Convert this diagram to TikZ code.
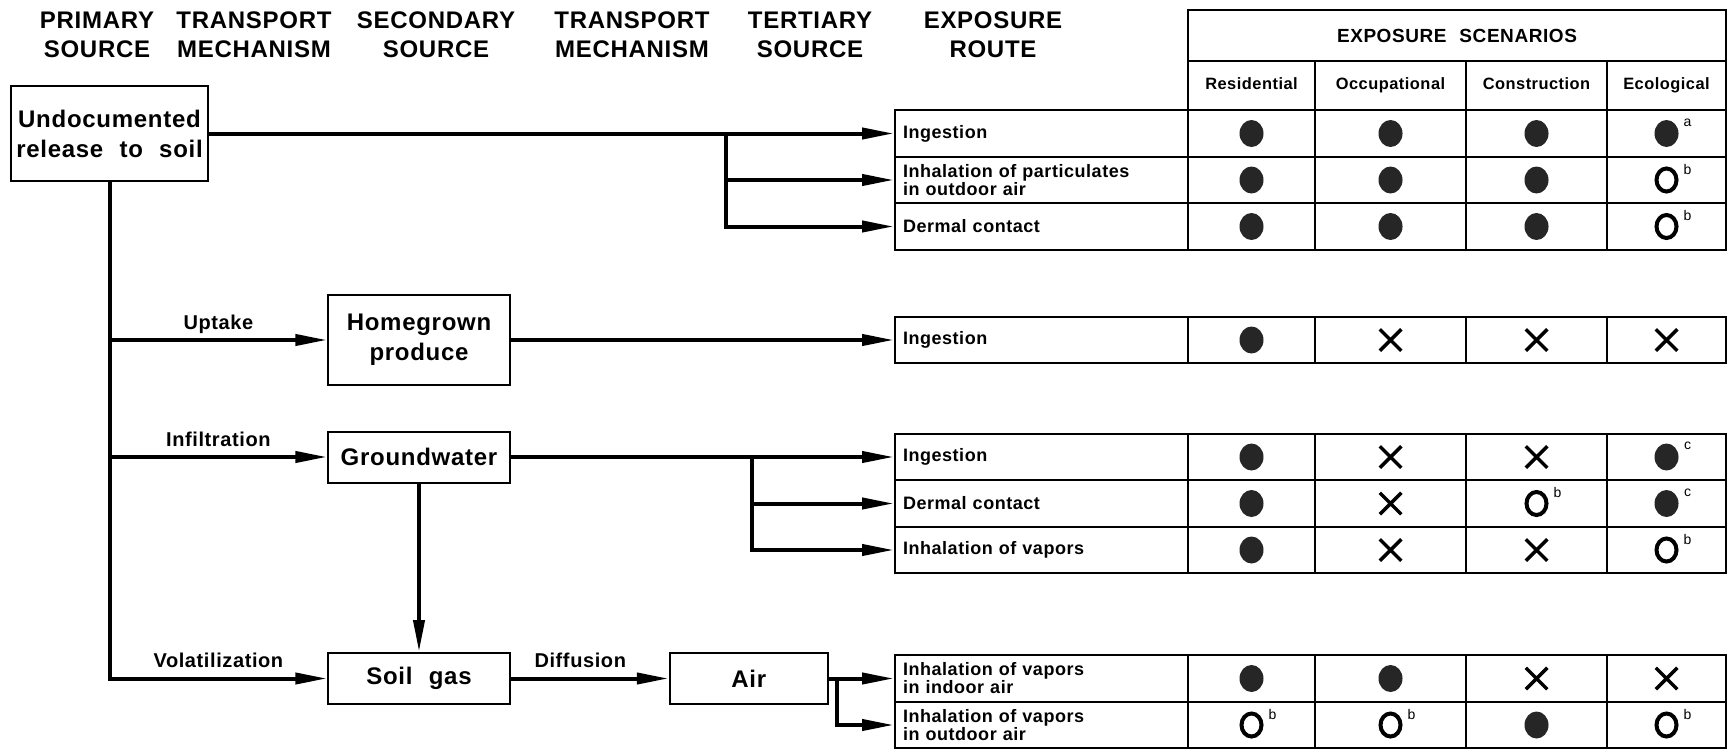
\documentclass[tikz,border=0pt]{standalone}
\usepackage{fontspec}
\setmainfont{Liberation Sans}[WordSpace=2.2,LetterSpace=3]
\usetikzlibrary{arrows.meta}
\usetikzlibrary{positioning}
\usetikzlibrary{shapes.misc}
\tikzset{
	>={Triangle[length=16pt,width=5.5pt]},
	colhead/.style={
		align=center,
		inner sep=0pt,
		font=\fontsize{12}{14.5}\selectfont\bfseries},
	srcbox/.style={
		rectangle,
		draw=black, line width=1pt,
		align=center,
		inner xsep=2pt,
		minimum width=90.75pt,
		minimum height=25.5pt,
		font=\fontsize{12}{15}\selectfont\bfseries},
	flow/.style={draw, line width=2pt, ->},
	mech/.style={
		above=1.5pt, inner sep=1pt,
		text height=7.4pt, text depth=2pt,
		font=\fontsize{10}{12}\selectfont\bfseries},
	routecell/.style={
		rectangle,
		draw=black, line width=1pt,
		text width=138.5pt, inner xsep=4pt, inner ysep=0pt,
		minimum height=23.25pt,
		align=left,
		font={\fontsize{9}{9}\selectfont\bfseries\fontdimen2\font=6.6pt\relax}},
	scencell/.style={
		rectangle,
		draw=black, line width=1pt,
		minimum height=23.25pt,
		inner sep=0pt},
	subhead/.style={scencell, minimum height=24.6pt, text height=6.3pt, text depth=1.9pt,
		font=\fontsize{8.2}{10}\selectfont\bfseries},
	dot/.style={fill=black!85},
	ring/.style={draw, line width=2pt},
	xmark/.style={cross out, draw, line width=1.75pt, minimum size=9pt, inner sep=0pt},
	supmk/.style={inner sep=0pt, font=\fontsize{7}{8}\selectfont},
}
\newcommand{\markF}[2]{\fill[dot] (#1) ellipse [x radius=6pt, y radius=6.75pt];
	\node[supmk] (#1s) at ([shift={(10.5pt,5.5pt)}]#1) {#2};}
\newcommand{\markO}[2]{\draw[ring] (#1) ellipse [x radius=5pt, y radius=5.75pt];
	\node[supmk] (#1s) at ([shift={(10.5pt,5.5pt)}]#1) {#2};}
\newcommand{\markX}[2]{\node[xmark] (#1x) at (#1) {};}
\begin{document}
\begin{tikzpicture}[x=0.5pt, y=-0.5pt]
	\useasboundingbox (0,0) rectangle (1733,749);
	% column headings
	\node[colhead] (hprim) at (97,35) {PRIMARY\\SOURCE};
	\node[colhead] (htrone) at (254,35) {TRANSPORT\\MECHANISM};
	\node[colhead] (hsec) at (436,35) {SECONDARY\\SOURCE};
	\node[colhead] (htrtwo) at (632,35) {TRANSPORT\\MECHANISM};
	\node[colhead] (hter) at (810,35) {TERTIARY\\SOURCE};
	\node[colhead] (hroute) at (993,35) {EXPOSURE\\ROUTE};

	% sources
	\node[srcbox, minimum width=98.5pt, minimum height=47pt] (src) at (109.5,133.5) {Undocumented\\release to soil};
	\node[srcbox, minimum height=45pt] (produce) at (419,340) {Homegrown\\produce};
	\node[srcbox] (gw) at (419,457) {Groundwater};
	\node[srcbox] (soilgas) at (419,678.5) {Soil gas};
	\node[srcbox, minimum width=79pt, right=79pt of soilgas] (air) {Air};

	% scenario table
	\node[scencell, minimum width=269pt, minimum height=25.5pt, font=\fontsize{9.5}{11}\selectfont\bfseries] (scen) at (1457,35.5) {EXPOSURE SCENARIOS};
	\foreach \cx/\cw/\ct [count=\c] in {1251.5/63.5/Residential, 1390.5/75.5/Occupational, 1536.5/70.5/Construction, 1666.5/59.5/Ecological}
		\node[subhead, minimum width=\cw pt] (sub\c) at (\cx,85.6) {\ct};
	\foreach \rn/\ry/\rt/\syms in {
		11/133.5/{Ingestion}/{F/,F/,F/,F/a},
		12/180/{Inhalation of particulates\\in outdoor air}/{F/,F/,F/,O/b},
		13/226.5/{Dermal contact}/{F/,F/,F/,O/b},
		21/340/{Ingestion}/{F/,X/,X/,X/},
		31/457/{Ingestion}/{F/,X/,X/,F/c},
		32/503.5/{Dermal contact}/{F/,X/,O/b,F/c},
		33/550/{Inhalation of vapors}/{F/,X/,X/,O/b},
		41/678.5/{Inhalation of vapors\\in indoor air}/{F/,F/,X/,X/},
		42/725/{Inhalation of vapors\\in outdoor air}/{O/b,O/b,F/,O/b}}
	{
		\node[routecell] (r\rn) at (1041.5,\ry) {\rt};
		\foreach \cx/\cw [count=\c] in {1251.5/63.5, 1390.5/75.5, 1536.5/70.5, 1666.5/59.5}
			\node[scencell, minimum width=\cw pt] (c\rn\c) at (\cx,\ry) {};
		\foreach \sy/\su [count=\c] in \syms
			{\csname mark\sy\endcsname{c\rn\c}{\su}}
	}

	% transport paths
	\draw[flow] (src.east) -- (r11.west);
	\coordinate (j1) at (726,0 |- r11.west);
	\draw[flow] (j1) |- (r12.west);
	\draw[flow] (j1) |- (r13.west);
	\draw[flow] (src.south) |- node[mech, pos=0.75]{Volatilization} (soilgas.west);
	\draw[flow] (src.south |- produce.west) -- node[mech]{Uptake} (produce.west);
	\draw[flow] (src.south |- gw.west) -- node[mech]{Infiltration} (gw.west);
	\draw[flow] (produce.east) -- (r21.west);
	\draw[flow] (gw.east) -- (r31.west);
	\coordinate (j3) at (751.5,0 |- r31.west);
	\draw[flow] (j3) |- (r32.west);
	\draw[flow] (j3) |- (r33.west);
	\draw[flow] (gw.south) -- (soilgas.north);
	\draw[flow] (soilgas.east) -- node[mech, pos=0.44]{Diffusion} (air.west);
	\draw[flow] (air.east) -- (r41.west);
	\coordinate (j4) at (836.5,0 |- r41.west);
	\draw[flow] (j4) |- (r42.west);
\end{tikzpicture}
\end{document}
